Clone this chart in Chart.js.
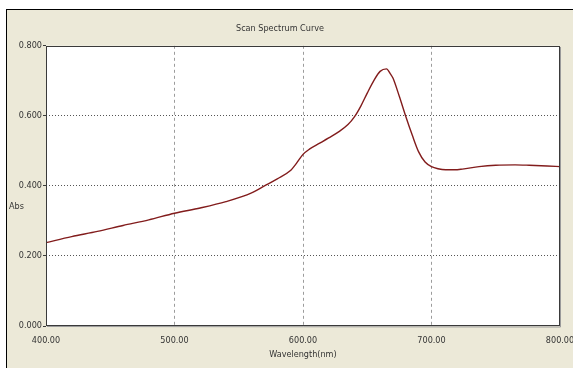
<!DOCTYPE html>
<html>
<head>
<meta charset="utf-8">
<script src="https://cdn.jsdelivr.net/npm/chart.js@4/dist/chart.umd.min.js"></script>
<style>
  html, body { margin: 0; padding: 0; background: #ffffff; overflow: hidden; }
  #wrap { position: relative; width: 573px; height: 368px; }
  #frame { position: absolute; left: 6px; top: 9px; width: 620px; height: 420px;
           background: #ECE9D8; border-top: 1px solid #000; border-left: 1px solid #000; }
  #c { position: absolute; left: 0; top: 0; }
</style>
</head>
<body>
<div id="wrap">
  <div id="frame"></div>
  <canvas id="c" width="573" height="368"></canvas>
</div>
<script>
// ---- data ----
const wavelengths = [400, 420, 440, 460, 480, 500, 520, 540, 560, 570, 580, 590, 595, 600, 605, 613, 620, 628, 635, 640, 645, 650, 655, 660, 665, 668, 670, 675, 680, 685, 690, 695, 700, 705, 711, 718, 724, 737, 750, 765, 776, 790, 800];
const absorbance  = [0.238, 0.255, 0.270, 0.287, 0.303, 0.322, 0.337, 0.355, 0.380, 0.400, 0.420, 0.443, 0.465, 0.490, 0.505, 0.522, 0.537, 0.555, 0.575, 0.597, 0.628, 0.665, 0.700, 0.727, 0.734, 0.720, 0.708, 0.655, 0.598, 0.545, 0.497, 0.468, 0.455, 0.449, 0.446, 0.446, 0.448, 0.455, 0.459, 0.460, 0.459, 0.457, 0.455];
const xTicks = [400, 500, 600, 700, 800];
const yTicks = [0, 0.2, 0.4, 0.6, 0.8];
const chartTitle = 'Scan Spectrum Curve';
const xTitle = 'Wavelength(nm)';
const yTitle = 'Abs';

const FONT = "'Liberation Sans Narrow', 'Arial Narrow', 'DejaVu Sans Condensed', 'Liberation Sans', sans-serif";
const TXT = '#333333';

const points = wavelengths.map((w, i) => ({ x: w, y: absorbance[i] }));

const framePlugin = {
  id: 'framePlugin',
  beforeDraw(chart) {
    const { ctx, chartArea: a } = chart;
    ctx.save();
    ctx.fillStyle = '#ffffff';
    ctx.fillRect(a.left, a.top, a.right - a.left, a.bottom - a.top);
    ctx.restore();
  },
  afterDraw(chart) {
    const { ctx, chartArea: a } = chart;
    ctx.save();
    ctx.lineWidth = 1;
    ctx.strokeStyle = '#3a3a3a';
    ctx.strokeRect(Math.round(a.left) + 0.5, Math.round(a.top) + 0.5,
                   Math.round(a.right - a.left) - 1, Math.round(a.bottom - a.top) - 1);
    ctx.strokeStyle = '#9a9a9a';
    ctx.beginPath();
    ctx.moveTo(Math.round(a.right) + 0.5, Math.round(a.top) + 1);
    ctx.lineTo(Math.round(a.right) + 0.5, Math.round(a.bottom) + 1);
    ctx.lineTo(Math.round(a.left) + 1, Math.round(a.bottom) + 0.5);
    ctx.stroke();
    // horizontal y-axis label
    ctx.fillStyle = TXT;
    ctx.font = '9px ' + FONT;
    ctx.textAlign = 'left';
    ctx.textBaseline = 'middle';
    ctx.fillText(yTitle, 9, (a.top + a.bottom) / 2 + 21);
    ctx.restore();
  }
};

new Chart(document.getElementById('c'), {
  type: 'line',
  data: {
    datasets: [{
      data: points,
      borderColor: '#821c1c',
      borderWidth: 1.4,
      pointRadius: 0,
      fill: false,
      cubicInterpolationMode: 'monotone'
    }]
  },
  options: {
    responsive: false,
    animation: false,
    layout: { padding: { left: 0, right: 13, top: 0, bottom: 0 } },
    plugins: {
      legend: { display: false },
      tooltip: { enabled: false },
      title: {
        display: true,
        text: chartTitle,
        color: TXT,
        font: { family: FONT, size: 9, weight: 'normal', lineHeight: 1.2 },
        padding: { top: 23, bottom: 12 }
      }
    },
    scales: {
      x: {
        type: 'linear',
        min: 400, max: 800,
        afterBuildTicks: s => { s.ticks = xTicks.map(v => ({ value: v })); },
        afterFit: s => { s.height = 42; s.paddingLeft = 0; s.paddingRight = 0; },
        ticks: {
          color: TXT,
          font: { family: FONT, size: 9 },
          padding: 9,
          maxRotation: 0,
          autoSkip: false,
          callback: v => v.toFixed(2)
        },
        grid: {
          drawTicks: false,
          color: c => (c.tick && (c.tick.value === 400 || c.tick.value === 800)) ? 'rgba(0,0,0,0)' : '#9c9c9c',
          lineWidth: 1
        },
        border: { display: false, dash: [3, 3] },
        title: {
          display: true,
          text: xTitle,
          color: TXT,
          font: { family: FONT, size: 9 },
          padding: { top: 0, bottom: 8 }
        }
      },
      y: {
        type: 'linear',
        min: 0, max: 0.8,
        afterBuildTicks: s => { s.ticks = yTicks.map(v => ({ value: v })); },
        afterFit: s => { s.width = 46; s.paddingTop = 0; s.paddingBottom = 0; },
        ticks: {
          color: TXT,
          font: { family: FONT, size: 9 },
          padding: 1,
          callback: v => v.toFixed(3)
        },
        grid: {
          drawTicks: true,
          tickLength: 3,
          tickColor: '#3a3a3a',
          color: c => (c.tick && (c.tick.value === 0 || c.tick.value === 0.8)) ? 'rgba(0,0,0,0)' : '#555555',
          lineWidth: 1
        },
        border: { display: false, dash: [1, 2] }
      }
    }
  },
  plugins: [framePlugin]
});
</script>
</body>
</html>
